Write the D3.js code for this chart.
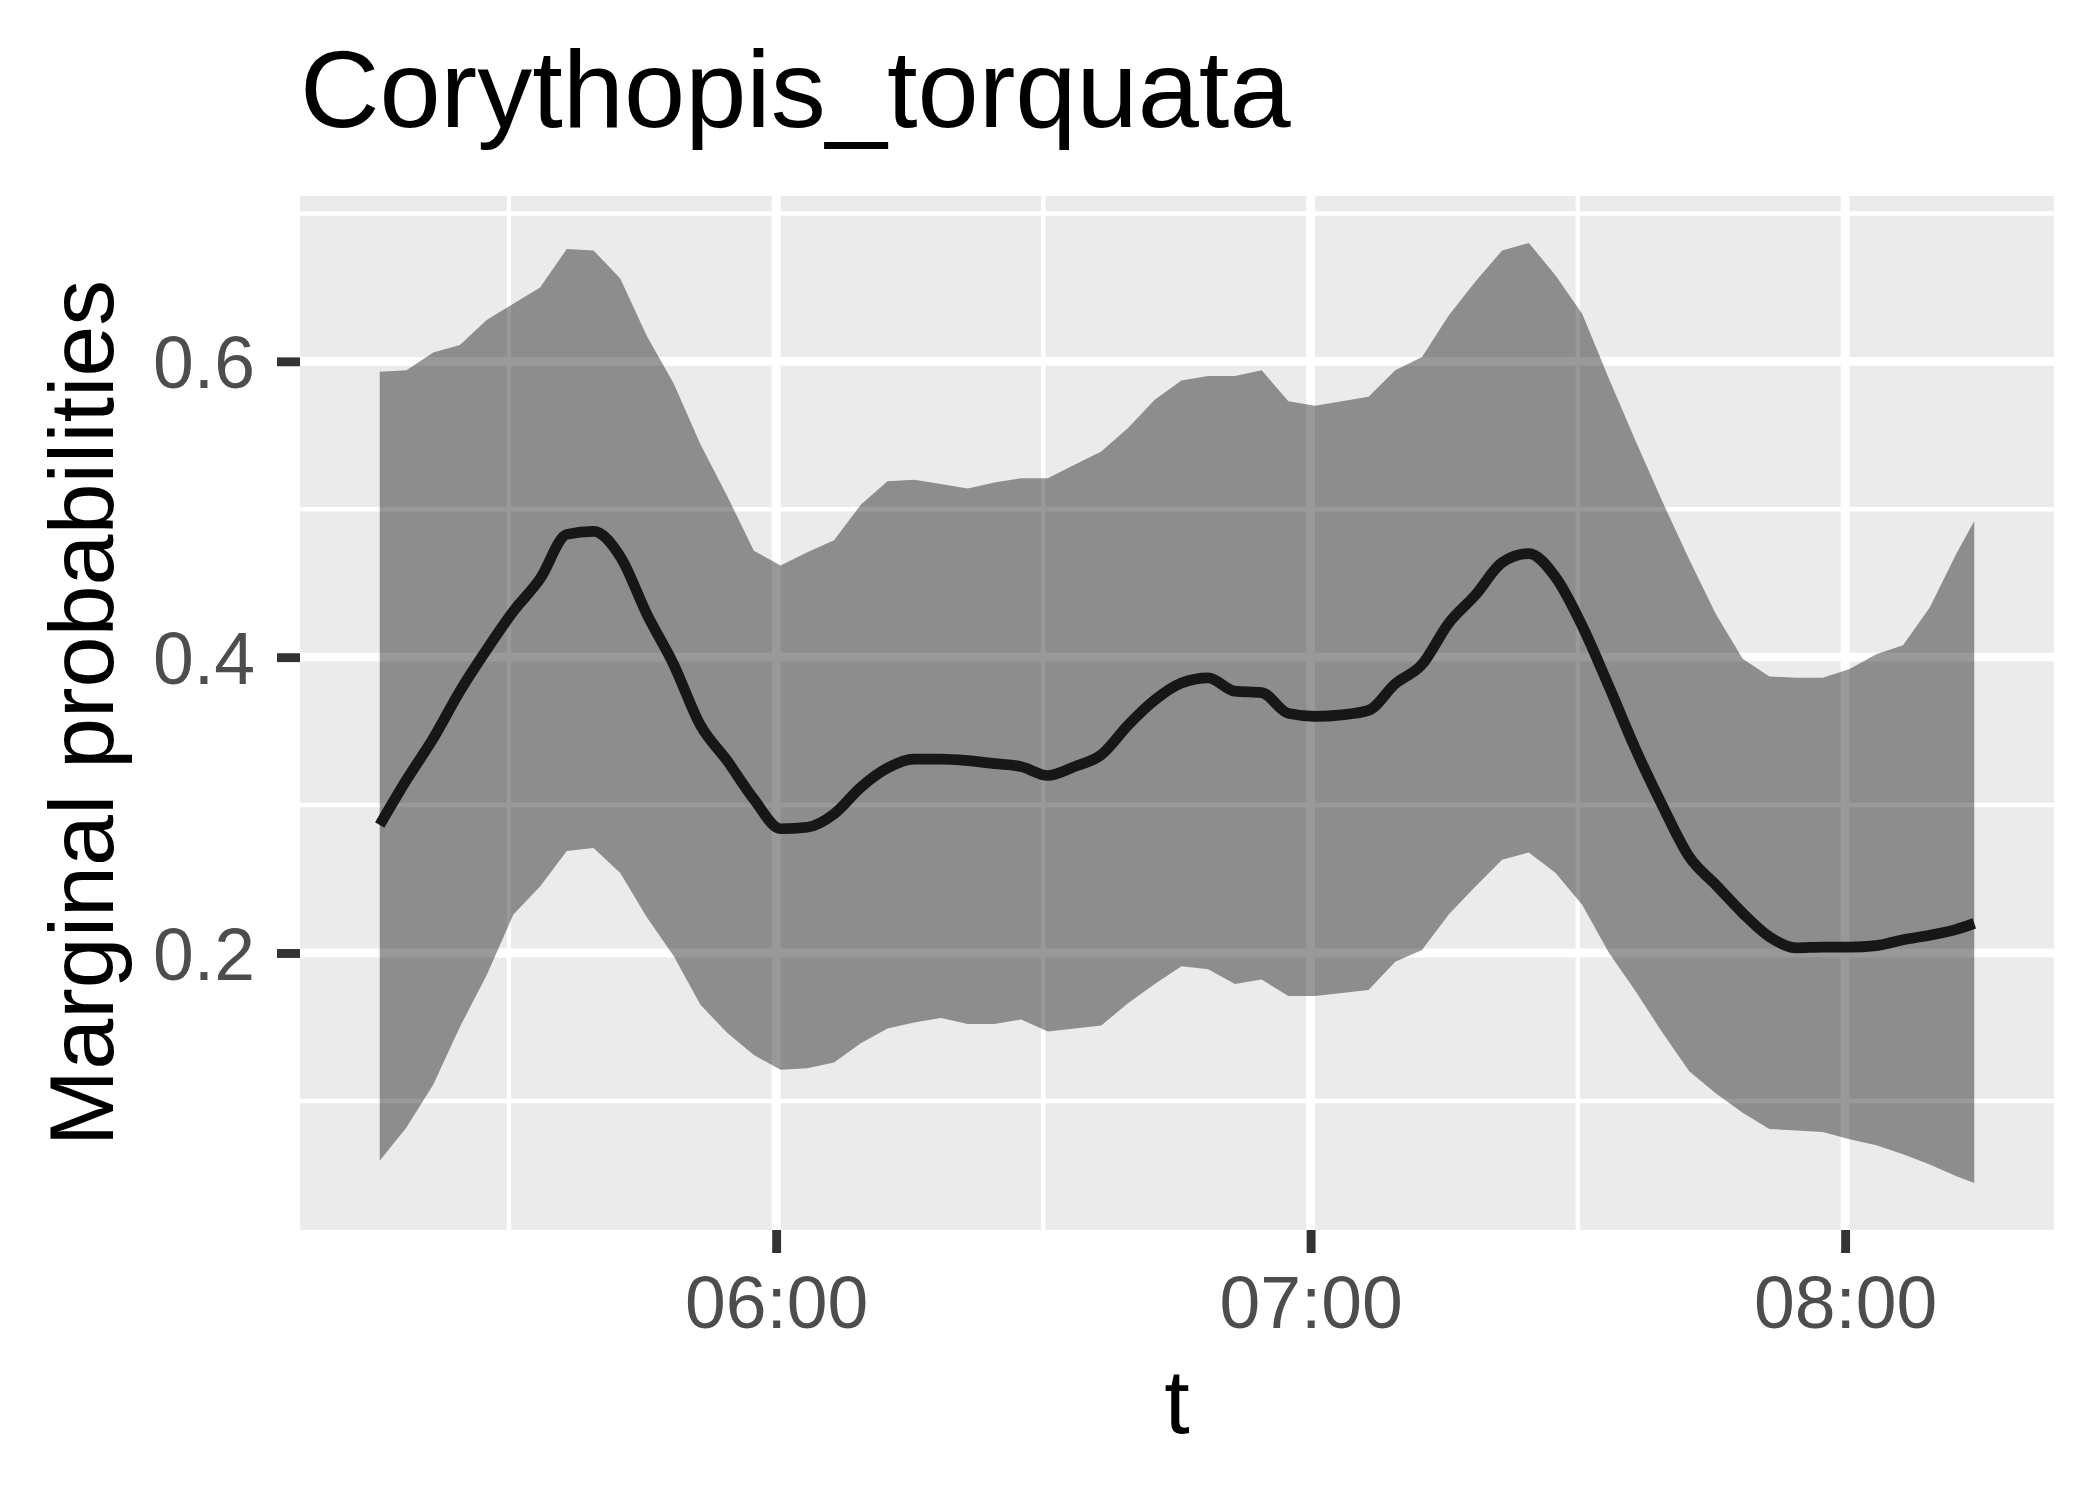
<!DOCTYPE html>
<html>
<head>
<meta charset="utf-8">
<script src="https://cdn.jsdelivr.net/npm/d3@7"></script>
<style>
body { margin: 0; background: #ffffff; }
text { font-family: "Liberation Sans", Arial, Helvetica, sans-serif; }
</style>
</head>
<body>
<div id="chart"></div>
<script>
// time of each estimate
var times = [
"05:15:30","05:18:30","05:21:30","05:24:30","05:27:30","05:30:30","05:33:30","05:36:30",
"05:39:30","05:42:30","05:45:30","05:48:30","05:51:30","05:54:30","05:57:30","06:00:30",
"06:03:30","06:06:30","06:09:30","06:12:30","06:15:30","06:18:30","06:21:30","06:24:30",
"06:27:30","06:30:30","06:33:30","06:36:30","06:39:30","06:42:30","06:45:30","06:48:30",
"06:51:30","06:54:30","06:57:30","07:00:30","07:03:30","07:06:30","07:09:30","07:12:30",
"07:15:30","07:18:30","07:21:30","07:24:30","07:27:30","07:30:30","07:33:30","07:36:30",
"07:39:30","07:42:30","07:45:30","07:48:30","07:51:30","07:54:30","07:57:30","08:00:30",
"08:03:30","08:06:30","08:09:30","08:12:30","08:14:30"
];

// marginal probability (mean)
var meanProb = [
0.2865,0.317,0.345,0.377,0.405,0.431,0.453,0.483,0.485,0.468,0.429,0.395,0.354,0.330,0.304,0.284,
0.285,0.294,0.312,0.325,0.331,0.331,0.330,0.328,0.326,0.320,0.326,0.334,0.354,0.371,0.3825,
0.386,0.377,0.376,0.362,0.360,0.361,0.364,0.382,0.395,0.423,0.442,0.464,0.470,0.454,0.421,0.380,
0.3375,0.2995,0.265,0.246,0.227,0.211,0.2035,0.204,0.204,0.205,0.209,0.212,0.216,0.220
];

// lower bound of the band
var lowerProb = [
0.0595,0.082,0.111,0.150,0.185,0.226,0.245,0.269,0.271,0.254,0.224,0.198,0.165,0.146,0.131,0.121,
0.122,0.126,0.139,0.149,0.153,0.156,0.152,0.152,0.155,0.147,0.149,0.151,0.166,0.179,0.191,
0.189,0.179,0.182,0.171,0.171,0.173,0.175,0.194,0.202,0.226,0.245,0.263,0.268,0.254,0.2325,0.200,
0.174,0.146,0.120,0.105,0.092,0.081,0.080,0.079,0.074,0.070,0.064,0.057,0.049,0.0445
];

// upper bound of the band
var upperProb = [
0.593,0.594,0.606,0.611,0.628,0.639,0.650,0.676,0.675,0.656,0.617,0.585,0.544,0.509,0.472,0.462,
0.471,0.479,0.503,0.519,0.520,0.517,0.514,0.518,0.521,0.521,0.530,0.539,0.555,0.574,0.587,
0.590,0.590,0.594,0.573,0.570,0.573,0.576,0.594,0.603,0.631,0.654,0.675,0.680,0.658,0.632,0.588,
0.546,0.505,0.466,0.429,0.399,0.387,0.386,0.386,0.392,0.402,0.408,0.4335,0.470,0.492
];

var xTickLabels = ["06:00", "07:00", "08:00"];
var xMinorBreaks = ["05:30", "06:30", "07:30"];
var yTickValues = [0.2, 0.4, 0.6];
var yMinorBreaks = [0.1, 0.3, 0.5, 0.7];

var margin = {top: 196, right: 46, bottom: 270, left: 300},
    width = 2100 - margin.left - margin.right,
    height = 1500 - margin.top - margin.bottom;

var parseTime = d3.timeParse("%H:%M:%S");
var parseTick = d3.timeParse("%H:%M");
var formatTick = d3.timeFormat("%H:%M");

var data = times.map(function(t, i) {
  return {t: parseTime(t), mean: meanProb[i], lo: lowerProb[i], hi: upperProb[i]};
});

// ggplot style 5% expansion
var tExt = d3.extent(data, function(d) { return d.t; });
var tPad = (tExt[1] - tExt[0]) * 0.05;
var yLo = d3.min(lowerProb), yHi = d3.max(upperProb);
var yPad = (yHi - yLo) * 0.05;

var x = d3.scaleTime()
    .domain([new Date(+tExt[0] - tPad), new Date(+tExt[1] + tPad)])
    .range([0, width]);

var y = d3.scaleLinear()
    .domain([yLo - yPad, yHi + yPad])
    .range([height, 0]);

var svg = d3.select("#chart").append("svg")
    .attr("width", 2100)
    .attr("height", 1500)
    .style("background-color", "#ffffff");

var g = svg.append("g")
    .attr("transform", "translate(" + margin.left + "," + margin.top + ")");

// panel
g.append("rect")
    .attr("width", width)
    .attr("height", height)
    .attr("fill", "#EBEBEB");

// minor grid
g.selectAll(".ygrid-minor").data(yMinorBreaks).enter().append("line")
    .attr("x1", 0).attr("x2", width)
    .attr("y1", function(d) { return y(d); })
    .attr("y2", function(d) { return y(d); })
    .attr("stroke", "#ffffff").attr("stroke-width", 4.45);

g.selectAll(".xgrid-minor").data(xMinorBreaks).enter().append("line")
    .attr("y1", 0).attr("y2", height)
    .attr("x1", function(d) { return x(parseTick(d)); })
    .attr("x2", function(d) { return x(parseTick(d)); })
    .attr("stroke", "#ffffff").attr("stroke-width", 4.45);

// major grid
g.selectAll(".ygrid").data(yTickValues).enter().append("line")
    .attr("x1", 0).attr("x2", width)
    .attr("y1", function(d) { return y(d); })
    .attr("y2", function(d) { return y(d); })
    .attr("stroke", "#ffffff").attr("stroke-width", 8.9);

g.selectAll(".xgrid").data(xTickLabels).enter().append("line")
    .attr("y1", 0).attr("y2", height)
    .attr("x1", function(d) { return x(parseTick(d)); })
    .attr("x2", function(d) { return x(parseTick(d)); })
    .attr("stroke", "#ffffff").attr("stroke-width", 8.9);

// ribbon
var area = d3.area()
    .x(function(d) { return x(d.t); })
    .y0(function(d) { return y(d.lo); })
    .y1(function(d) { return y(d.hi); });

g.append("path")
    .datum(data)
    .attr("d", area)
    .attr("fill", "#000000")
    .attr("fill-opacity", 0.4);

// mean line
var line = d3.line()
    .x(function(d) { return x(d.t); })
    .y(function(d) { return y(d.mean); })
    .curve(d3.curveMonotoneX);

g.append("path")
    .datum(data)
    .attr("d", line)
    .attr("fill", "none")
    .attr("stroke", "#171717")
    .attr("stroke-width", 10.7)
    .attr("stroke-linejoin", "round")
    .attr("stroke-linecap", "butt");

// axes
var yAxis = g.append("g")
    .call(d3.axisLeft(y).tickValues(yTickValues).tickSize(23).tickPadding(22)
      .tickFormat(d3.format(".1f")));

var xAxis = g.append("g")
    .attr("transform", "translate(0," + height + ")")
    .call(d3.axisBottom(x).tickValues(xTickLabels.map(parseTick)).tickSize(23).tickPadding(23)
      .tickFormat(formatTick));

[yAxis, xAxis].forEach(function(ax) {
  ax.select(".domain").remove();
  ax.selectAll(".tick line").attr("stroke", "#333333").attr("stroke-width", 8.9);
  ax.selectAll(".tick text")
    .attr("fill", "#4D4D4D")
    .style("font-size", "73.3px")
    .style("font-family", "'Liberation Sans', Arial, Helvetica, sans-serif");
});
yAxis.selectAll(".tick text").attr("dy", "0.36em");

// labels
svg.append("text")
    .attr("x", margin.left)
    .attr("y", 127)
    .style("font-size", "110px")
    .attr("fill", "#000000")
    .text("Corythopis_torquata");

svg.append("text")
    .attr("text-anchor", "middle")
    .attr("x", margin.left + width / 2)
    .attr("y", 1433)
    .style("font-size", "91.7px")
    .attr("fill", "#000000")
    .text("t");

svg.append("text")
    .attr("text-anchor", "middle")
    .attr("transform", "translate(113," + (margin.top + height / 2) + ")rotate(-90)")
    .style("font-size", "91.7px")
    .attr("fill", "#000000")
    .text("Marginal probabilities");
</script>
</body>
</html>
